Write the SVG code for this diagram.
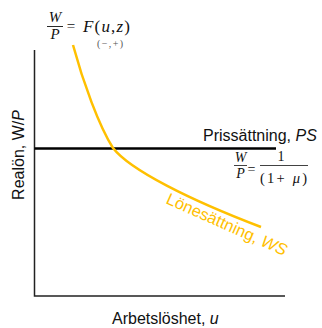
<svg xmlns="http://www.w3.org/2000/svg" width="322" height="328" viewBox="0 0 322 328">
<style>
.lbl{font-family:"Liberation Sans",Arial,sans-serif;font-size:16px;fill:#111}
.math{font-family:"Liberation Serif","Times New Roman",serif;fill:#111}
.it{font-style:italic}
.axis{stroke:#222;stroke-width:1.5;fill:none}
.ws{stroke:#FFC000;stroke-width:2.5;fill:none}
</style>
<rect width="322" height="328" fill="#fff"/>
<g id="connectors">
<path class="axis" d="M34.5,50 V296 H285"/>
</g>
<g id="ps-line">
<line x1="34.5" y1="148.5" x2="276" y2="148.5" stroke="#000" stroke-width="2.5"/>
<text class="lbl" x="203" y="141">Prissättning, <tspan font-style="italic">PS</tspan></text>
</g>
<g id="ps-formula" class="math">
<text class="it" x="240.5" y="161.5" font-size="14" text-anchor="middle">W</text>
<line x1="234" y1="165.5" x2="247" y2="165.5" stroke="#111" stroke-width="0.8"/>
<text class="it" x="240.5" y="178" font-size="14" text-anchor="middle">P</text>
<text x="251.5" y="174" font-size="14" text-anchor="middle">=</text>
<text x="281" y="160.5" font-size="14" text-anchor="middle">1</text>
<line x1="260" y1="165.5" x2="308" y2="165.5" stroke="#111" stroke-width="0.8"/>
<text x="260" y="182.5" font-size="14.5" textLength="47" lengthAdjust="spacing">(1+ <tspan font-style="italic">μ</tspan>)</text>
</g>
<g id="ws-curve">
<path class="ws" d="M73,45 C83,82 99,126 113,148 C130,170 190,200 261,227"/>
<text x="165" y="203" transform="rotate(24 165 203)" font-family="Liberation Sans,Arial,sans-serif" font-size="16.5" fill="#FFC000">Lönesättning, <tspan font-style="italic">WS</tspan></text>
</g>
<g id="ws-formula" class="math">
<text class="it" x="55" y="22" font-size="15" text-anchor="middle">W</text>
<line x1="47" y1="26.5" x2="63" y2="26.5" stroke="#111" stroke-width="0.9"/>
<text class="it" x="55" y="38.5" font-size="15" text-anchor="middle">P</text>
<text x="71" y="30.5" font-size="15" text-anchor="middle">=</text>
<text x="83" y="32" font-size="17" textLength="47" lengthAdjust="spacing"><tspan font-style="italic">F</tspan>(<tspan font-style="italic">u</tspan>,<tspan font-style="italic">z</tspan>)</text>
<text x="97" y="46.5" font-size="10" fill="#555" textLength="26" lengthAdjust="spacing">(−,+)</text>
</g>
<g id="axis-labels">
<text class="lbl" x="0" y="0" transform="translate(24,155) rotate(-90)" text-anchor="middle">Realön, W/<tspan font-style="italic">P</tspan></text>
<text class="lbl" x="112" y="324">Arbetslöshet, <tspan font-style="italic">u</tspan></text>
</g>
</svg>
